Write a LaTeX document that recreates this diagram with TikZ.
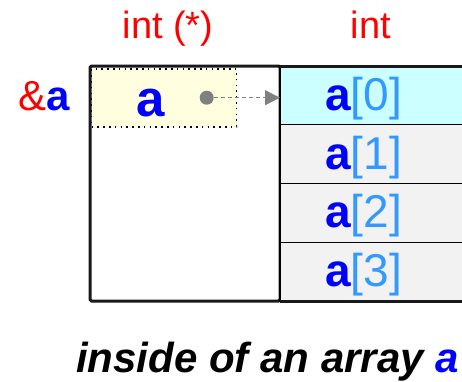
\documentclass[tikz,border=0pt]{standalone}
\usepackage{fontspec}
\setmainfont{Liberation Sans}
\usetikzlibrary{positioning,arrows.meta}
\definecolor{arrRed}{HTML}{FF0000}
\definecolor{arrBlue}{HTML}{0000FF}
\definecolor{idxBlue}{HTML}{3399FF}
\definecolor{arrCyan}{HTML}{CCFFFF}
\definecolor{arrGray}{HTML}{F2F2F2}
\definecolor{ptrYellow}{HTML}{FFFFE0}
\definecolor{ptrGray}{HTML}{808080}
\tikzset{
  outerbox/.style={rectangle, draw=black!90, line width=3pt, rounded corners=1.5pt,
    minimum width=190pt, minimum height=235pt, inner sep=0pt, outer sep=0pt},
  ptrcell/.style={rectangle, draw=black, line width=1.6pt, dash pattern=on 1.6pt off 4.2pt,
    fill=ptrYellow, minimum width=145pt, minimum height=57.7pt, text width=56pt,
    inner xsep=44.5pt, inner ysep=0pt, align=left, text height=42pt, text depth=5pt,
    font=\fontsize{51}{51}\selectfont\bfseries, text=arrBlue},
  elemcell/.style={rectangle, draw=black, line width=1.3pt, fill=arrGray,
    minimum width=200pt, minimum height=58.75pt, text width=110pt, inner xsep=45pt,
    inner ysep=0pt, outer sep=0pt, align=left, text height=35pt, text depth=5pt,
    font=\fontsize{46}{46}\selectfont, text=idxBlue},
  arrframe/.style={line width=3pt, black!90},
  typelbl/.style={anchor=base, text=arrRed, font=\fontsize{38}{38}\selectfont},
  ptrdotst/.style={circle, fill=ptrGray, minimum size=14pt, inner sep=0pt},
  ptrlink/.style={-{Triangle[length=15pt,width=15pt]}, ptrGray, line width=1.3pt,
    dash pattern=on 4pt off 3pt},
}

\begin{document}
\begin{tikzpicture}[x=1pt, y=-1pt]
\useasboundingbox (0,0) rectangle (462,381);

% ---------- pointer cell ----------
\node[ptrcell] (ptrval) at (164.1,97.85) {a};
\node[outerbox] (frame) at (185,183.5) {};
\node[ptrdotst] (ptrdot) at (206.7,97.7) {};

% ---------- array elements ----------
\node[elemcell, fill=arrCyan] (elem0) at (380,95.375)
  {\textcolor{arrBlue}{\textbf{a}}[0]};
\node[elemcell, below=0pt of elem0] (elem1)
  {\textcolor{arrBlue}{\textbf{a}}[1]};
\node[elemcell, below=0pt of elem1] (elem2)
  {\textcolor{arrBlue}{\textbf{a}}[2]};
\node[elemcell, below=0pt of elem2] (elem3)
  {\textcolor{arrBlue}{\textbf{a}}[3]};
\draw[arrframe] (elem0.north west) -- (elem0.north east);
\draw[arrframe] (elem3.south west) -- (elem3.south east);

% ---------- labels ----------
\node[typelbl] (ptrtype) at (168,38) {int (*)};
\node[typelbl] (elemtype) at (371,38) {int};
\node[anchor=base, font=\fontsize{42}{42}\selectfont] (addr) at (44,110)
  {\textcolor{arrRed}{\&}\textcolor{arrBlue}{\textbf{a}}};

% ---------- pointer link ----------
\draw[ptrlink] (ptrdot.east) -- (ptrdot -| elem0.west);

% ---------- caption ----------
\node[anchor=base, font=\fontsize{42}{42}\selectfont\bfseries\itshape] (caption)
  at (267.5,372) {inside of an array \textcolor{arrBlue}{a}};

\end{tikzpicture}
\end{document}
